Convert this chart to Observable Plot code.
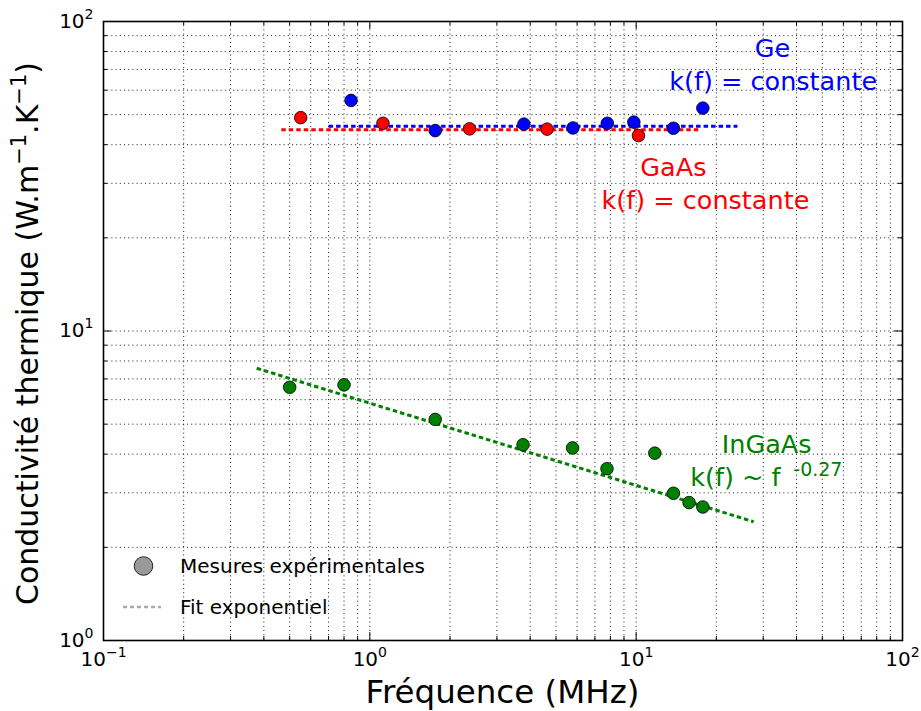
<!DOCTYPE html>
<html><head><meta charset="utf-8">
<script src="https://cdn.jsdelivr.net/npm/d3@7"></script>
<script src="https://cdn.jsdelivr.net/npm/@observablehq/plot@0.6"></script>
<style>
body{margin:0;background:#fff;font-family:"DejaVu Sans",sans-serif;}
#wrap{position:relative;width:921px;height:711px;}
</style></head><body><div id="wrap"></div>
<script>
// ---- data ----
const geFreq   = [0.85, 1.76, 3.79, 5.79, 7.79, 9.80, 13.8, 17.8];
const geK      = [55.6, 44.4, 46.6, 45.3, 46.9, 47.3, 45.2, 52.5];
const gaasFreq = [0.55, 1.12, 2.37, 4.63, 10.2];
const gaasK    = [48.9, 46.9, 45.0, 44.9, 42.8];
const ingaasFreq = [0.50, 0.80, 1.76, 3.76, 5.77, 7.77, 11.75, 13.8, 15.8, 17.8];
const ingaasK    = [6.58, 6.70, 5.18, 4.29, 4.19, 3.59, 4.03, 2.99, 2.79, 2.70];
// fit lines (end points)
const geFitFreq = [0.70, 24.0];      const geFitK = [45.9, 45.9];
const gaasFitFreq = [0.465, 17.5];   const gaasFitK = [44.7, 44.7];
const ingaasFitFreq = [0.376, 27.6]; const ingaasFitK = [7.58, 2.42];
// axes
const xMajor = [0.1, 1, 10, 100];
const yMajor = [1, 10, 100];
const tickLabels = {0.1: "10^-1", 1: "10^0", 10: "10^1", 100: "10^2"};
const xTitle = "Fréquence (MHz)";
const yTitleParts = [["Conductivité thermique (W.m", false], ["−1", true], [".K", false], ["−1", true], [")", false]];
// annotations
const annText = ["Ge", "k(f) = constante", "GaAs", "k(f) = constante", "InGaAs"];
const annFreq = [32.5, 32.7, 13.8, 18.2, 30.9];
const annK    = [81.8, 64.0, 33.6, 26.4, 4.30];
const annColor = ["#0000ff", "#0000ff", "#ff0000", "#ff0000", "#008000"];
const legendLabels = ["Mesures expérimentales", "Fit exponentiel"];

const colors = {Ge: "#0000ff", GaAs: "#ff0000", InGaAs: "#008000"};

const pts = [
  ...geFreq.map((f, i) => ({f, k: geK[i], s: "Ge"})),
  ...gaasFreq.map((f, i) => ({f, k: gaasK[i], s: "GaAs"})),
  ...ingaasFreq.map((f, i) => ({f, k: ingaasK[i], s: "InGaAs"}))
];
const fits = [
  ...gaasFitFreq.map((f, i) => ({f, k: gaasFitK[i], s: "GaAs"})),
  ...geFitFreq.map((f, i) => ({f, k: geFitK[i], s: "Ge"})),
  ...ingaasFitFreq.map((f, i) => ({f, k: ingaasFitK[i], s: "InGaAs"}))
];
const ann = annText.map((t, i) => ({t, f: annFreq[i], k: annK[i], c: annColor[i]}));

const minorOf = (majors) => majors.slice(0, -1).flatMap(d => d3.range(2, 10).map(m => d * m));
const xMinor = minorOf(xMajor);
const yMinor = minorOf(yMajor);

const W = 921, H = 711, mL = 103, mR = 19, mT = 21, mB = 71;
const pw = W - mL - mR, ph = H - mT - mB;
const FONT = "DejaVu Sans";
const gridStyle = {stroke: "black", strokeOpacity: 1, strokeWidth: 0.9, strokeDasharray: "1,3.2"};

const chart = Plot.plot({
  width: W, height: H,
  marginLeft: mL, marginRight: mR, marginTop: mT, marginBottom: mB,
  style: {fontFamily: FONT, background: "white", color: "black"},
  x: {type: "log", domain: [0.1, 100]},
  y: {type: "log", domain: [1, 100]},
  marks: [
    Plot.gridX([...xMajor, ...xMinor], gridStyle),
    Plot.gridY([...yMajor, ...yMinor], gridStyle),
    // inward ticks, all four sides
    Plot.tickX(xMajor, {x: d => d, insetTop: ph - 8, stroke: "black", strokeWidth: 1}),
    Plot.tickX(xMajor, {x: d => d, insetBottom: ph - 8, stroke: "black", strokeWidth: 1}),
    Plot.tickX(xMinor, {x: d => d, insetTop: ph - 4, stroke: "black", strokeWidth: 1}),
    Plot.tickX(xMinor, {x: d => d, insetBottom: ph - 4, stroke: "black", strokeWidth: 1}),
    Plot.tickY(yMajor, {y: d => d, insetRight: pw - 8, stroke: "black", strokeWidth: 1}),
    Plot.tickY(yMajor, {y: d => d, insetLeft: pw - 8, stroke: "black", strokeWidth: 1}),
    Plot.tickY(yMinor, {y: d => d, insetRight: pw - 4, stroke: "black", strokeWidth: 1}),
    Plot.tickY(yMinor, {y: d => d, insetLeft: pw - 4, stroke: "black", strokeWidth: 1}),
    Plot.axisX(xMajor, {anchor: "bottom", tickSize: 0, tickPadding: 11, fontSize: 20,
      tickFormat: d => tickLabels[d], label: null}),
    Plot.axisY(yMajor, {anchor: "left", tickSize: 0, tickPadding: 10, fontSize: 20,
      tickFormat: d => tickLabels[d], label: null}),
    // fit lines
    Plot.line(fits, {x: "f", y: "k", z: "s", stroke: d => colors[d.s], strokeWidth: 3,
      strokeDasharray: "4.5,3", strokeLinecap: "butt"}),
    // measurements
    Plot.dot(pts, {x: "f", y: "k", r: 6.3, fill: d => colors[d.s], stroke: "black", strokeWidth: 0.8}),
    // annotations
    Plot.text(ann, {x: "f", y: "k", text: "t", fill: d => d.c, fontSize: 25.5, textAnchor: "middle"}),
    Plot.text(["k(f) ~ f"], {x: () => 34.8, y: () => 3.36, text: d => d, fill: "#008000", fontSize: 25.5, textAnchor: "end"}),
    Plot.text(["-0.27"], {x: () => 38.9, y: () => 3.57, text: d => d, fill: "#008000", fontSize: 19, textAnchor: "start"}),
    Plot.frame({stroke: "black", strokeWidth: 1.6})
  ]
});
document.getElementById("wrap").appendChild(chart);

const svg = d3.select(chart);
// turn "10^e" tick labels into real superscripts
svg.selectAll("text").each(function () {
  const el = d3.select(this);
  const s = this.textContent;
  if (!/^10\^/.test(s)) return;
  const [base, exp] = s.split("^");
  el.text(null);
  el.append("tspan").text(base);
  el.append("tspan").attr("font-size", 14).attr("dy", -9).text(exp.replace("-", "−"));
});
svg.append("text").attr("x", mL + pw / 2).attr("y", 703).attr("text-anchor", "middle")
  .attr("font-family", FONT).attr("font-size", 32.5).attr("fill", "black").text(xTitle);
const yt = svg.append("text").attr("transform", `translate(38,${mT + ph / 2 + 3}) rotate(-90)`)
  .attr("text-anchor", "middle").attr("font-family", FONT).attr("font-size", 30).attr("fill", "black");
yTitleParts.forEach(([t, sup]) => {
  const ts = yt.append("tspan").text(t);
  if (sup) ts.attr("font-size", 21).attr("dy", -12);
  else ts.attr("dy", yt.selectAll("tspan").size() > 1 ? 12 : 0);
});
// legend
const lg = svg.append("g").attr("font-family", FONT).attr("font-size", 20).attr("text-anchor", "start").attr("fill", "black");
lg.append("circle").attr("cx", 143.5).attr("cy", 566).attr("r", 9.3).attr("fill", "#999").attr("stroke", "black").attr("stroke-width", 0.8);
lg.append("text").attr("x", 180).attr("y", 573).text(legendLabels[0]);
lg.append("line").attr("x1", 123).attr("x2", 161).attr("y1", 607).attr("y2", 607)
  .attr("stroke", "#aaa").attr("stroke-width", 2.5).attr("stroke-dasharray", "4,3");
lg.append("text").attr("x", 180).attr("y", 614).text(legendLabels[1]);
</script></body></html>
